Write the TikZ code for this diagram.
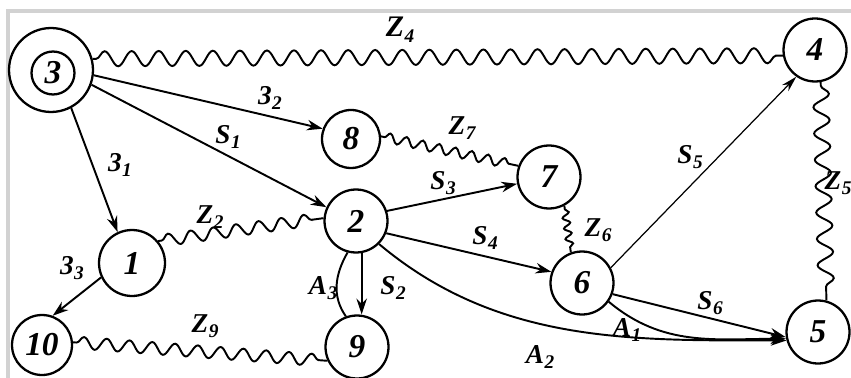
\documentclass[tikz,border=0pt]{standalone}
\usepackage{fontspec}
\setmainfont{Liberation Serif}
\usetikzlibrary{decorations.pathmorphing,arrows.meta}
\newcommand{\lbl}[2]{#1\kern0.3pt\raisebox{-0.45ex}{\fontsize{11}{11}\selectfont #2}}
\begin{document}
\begin{tikzpicture}[x=0.02cm,y=-0.02cm,
  st/.style={circle,draw,line width=1.3pt,inner sep=0pt,minimum size=1.26cm,font=\fontsize{19}{19}\selectfont\bfseries\itshape},
  arr/.style={line width=1.1pt,-{Stealth[length=9pt,width=6pt]}},
  thinarr/.style={line width=0.7pt,-{Stealth[length=9pt,width=5pt]}},
  plain/.style={line width=1.1pt},
  wave/.style 2 args={line width=1.1pt,decorate,decoration={snake,segment length=#1,amplitude=#2,pre length=2pt,post length=2pt}},
  lab/.style={font=\fontsize{15.5}{15.5}\selectfont\bfseries\itshape,inner sep=1pt}]
\useasboundingbox (0,0) rectangle (851,378);
\draw[line width=2pt,gray!35] (8,378) -- (8,11) -- (851,11);
% nodes
\node[st,minimum size=1.68cm] (n3) at (51,70) {};
\node[st,minimum size=0.86cm] (n3i) at (53,73) {3};
\node[st,minimum size=1.16cm] (n8) at (351,139) {8};
\node[st] (n4) at (815,50) {4};
\node[st] (n7) at (549,177) {7};
\node[st] (n2) at (356,221) {2};
\node[st,minimum size=1.32cm] (n1) at (132,263) {1};
\node[st,minimum size=1.2cm] (n10) at (42,345) {10};
\node[st] (n9) at (357,347) {9};
\node[st] (n6) at (582,283) {6};
\node[st] (n5) at (818,332) {5};
% arrows
\draw[arr] (n3.-7) -- (n8.160);
\draw[arr] (n3.-20) -- (n2.155);
\draw[arr] (n3.-62) -- (n1.115);
\draw[arr] (n1.-155) -- (n10.70);
\draw[arr] (n2.18) -- (n7.192);
\draw[arr] (n2.-22) -- (n6.160);
\draw[arr] (n2.-80) -- (n2.-80 |- n9.north);
\draw[plain] (n2.-105) to[out=-120,in=125] (n9.110);
\draw[arr] (n2.-45) to[out=-40,in=180,looseness=0.95] (n5.195);
\draw[arr] (n6.-35) to[out=-40,in=180] (n5.192);
\draw[arr] (n6.-20) -- (n5.189);
\draw[thinarr] (n6.28) -- (n4.-125);
% waves
\draw[wave={15.4pt}{4.3pt}] (n3.15) -- (n4.190);
\draw[wave={13pt}{3.4pt}] (n1.40) -- (n2.175);
\draw[wave={13pt}{3.4pt}] (n10.5) -- (n9.205);
\draw[wave={9.5pt}{2.7pt}] (n8.5) -- (n7.160);
\draw[wave={6pt}{2pt}] (n7.-62) -- (n6.110);
\draw[wave={15pt}{4.5pt}] (n4.-80) -- (n5.75);
% labels
\node[lab,font=\fontsize{17}{17}\selectfont\bfseries\itshape] (lz4) at (400,30) {\lbl{Z}{4}};
\node[lab] (l32) at (270,98) {\lbl{3}{2}};
\node[lab] (ls1) at (228,137) {\lbl{S}{1}};
\node[lab] (l31) at (120,165) {\lbl{3}{1}};
\node[lab] (l33) at (72,268) {\lbl{3}{3}};
\node[lab] (lz2) at (210,217) {\lbl{Z}{2}};
\node[lab] (lz9) at (205,326) {\lbl{Z}{9}};
\node[lab] (la3) at (323,288) {\lbl{A}{3}};
\node[lab] (ls2) at (393,288) {\lbl{S}{2}};
\node[lab] (lz7) at (462,128) {\lbl{Z}{7}};
\node[lab] (ls3) at (443,183) {\lbl{S}{3}};
\node[lab] (lz6) at (598,230) {\lbl{Z}{6}};
\node[lab] (ls4) at (485,238) {\lbl{S}{4}};
\node[lab] (ls5) at (690,157) {\lbl{S}{5}};
\node[lab] (ls6) at (710,303) {\lbl{S}{6}};
\node[lab] (la1) at (627,330) {\lbl{A}{1}};
\node[lab] (la2) at (540,357) {\lbl{A}{2}};
\node[lab] (lz5) at (838,183) {\lbl{Z}{5}};
\end{tikzpicture}
\end{document}
